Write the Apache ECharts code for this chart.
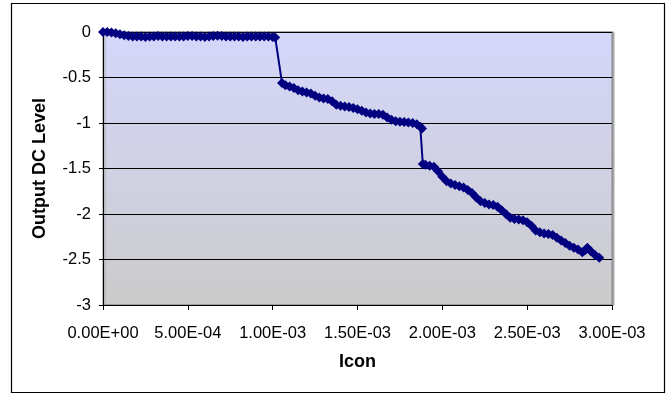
<!DOCTYPE html>
<html>
<head>
<meta charset="utf-8">
<script src="https://cdn.jsdelivr.net/npm/echarts@6/dist/echarts.min.js"></script>
<style>
  html, body { margin: 0; padding: 0; background: #fff; }
  #chart { width: 666px; height: 395px; }
</style>
</head>
<body>
<div id="chart"></div>
<script>
// Icon sweep, in mA (converted to A when plotted)
const iconMilliAmps = [
  0, 0.025, 0.05, 0.075, 0.1, 0.125, 0.15, 0.175, 0.2, 0.225,
  0.25, 0.275, 0.3, 0.325, 0.35, 0.375, 0.4, 0.425, 0.45, 0.475,
  0.5, 0.525, 0.55, 0.575, 0.6, 0.625, 0.65, 0.675, 0.7, 0.725,
  0.75, 0.775, 0.8, 0.825, 0.85, 0.875, 0.9, 0.925, 0.95, 0.975,
  1.0, 1.015,
  1.055, 1.075, 1.1, 1.125, 1.15, 1.175, 1.2, 1.225, 1.25, 1.275,
  1.3, 1.325, 1.35, 1.375, 1.4, 1.425, 1.45, 1.475, 1.5, 1.525,
  1.55, 1.575, 1.6, 1.625, 1.65, 1.675, 1.7, 1.725, 1.75, 1.775,
  1.8, 1.825, 1.85, 1.87, 1.88,
  1.885, 1.9, 1.925, 1.95, 1.975, 2.0, 2.025, 2.05, 2.075, 2.1,
  2.125, 2.15, 2.175, 2.2, 2.225, 2.25, 2.275, 2.3, 2.325, 2.35,
  2.375, 2.4, 2.425, 2.45, 2.475, 2.5, 2.525, 2.55, 2.575, 2.6,
  2.625, 2.65, 2.675, 2.7, 2.725, 2.75, 2.775, 2.8, 2.825, 2.84,
  2.855, 2.875, 2.9, 2.925
];

// Measured output DC level for each Icon point
const outputDcLevel = [
  0, 0, -0.005, -0.015, -0.025, -0.035, -0.045, -0.05, -0.05, -0.05,
  -0.055, -0.05, -0.05, -0.045, -0.05, -0.05, -0.05, -0.05, -0.05, -0.05,
  -0.045, -0.045, -0.05, -0.05, -0.055, -0.05, -0.045, -0.04, -0.045, -0.05,
  -0.05, -0.05, -0.05, -0.055, -0.05, -0.05, -0.05, -0.05, -0.05, -0.05,
  -0.055, -0.06,
  -0.56, -0.585, -0.6, -0.615, -0.64, -0.655, -0.665, -0.675, -0.7, -0.72,
  -0.73, -0.735, -0.76, -0.8, -0.81, -0.82, -0.825, -0.835, -0.85, -0.865,
  -0.885, -0.895, -0.9, -0.9, -0.91, -0.94, -0.965, -0.98, -0.985, -0.99,
  -0.995, -1.0, -1.015, -1.04, -1.06,
  -1.45, -1.46, -1.47, -1.48, -1.53, -1.59, -1.64, -1.665, -1.68, -1.695,
  -1.71, -1.735, -1.77, -1.82, -1.86, -1.88, -1.895, -1.9, -1.92, -1.96,
  -2.0, -2.04, -2.055, -2.06, -2.07, -2.09, -2.13, -2.18, -2.2, -2.215,
  -2.22, -2.23, -2.26, -2.29, -2.32, -2.35, -2.37, -2.39, -2.42, -2.4,
  -2.37, -2.41, -2.45, -2.48
];

const xTickLabels = ['0.00E+00', '5.00E-04', '1.00E-03', '1.50E-03', '2.00E-03', '2.50E-03', '3.00E-03'];
const yTickLabels = ['-3', '-2.5', '-2', '-1.5', '-1', '-0.5', '0'];

const points = iconMilliAmps.map((x, i) => [x * 1e-3, outputDcLevel[i]]);

const FONT = '"Liberation Sans", Arial, sans-serif';
const chart = echarts.init(document.getElementById('chart'), null, { renderer: 'canvas' });

chart.setOption({
  animation: false,
  backgroundColor: '#ffffff',
  graphic: [{
    type: 'rect',
    shape: { x: 11.5, y: 3.5, width: 653, height: 389 },
    style: { fill: 'none', stroke: '#000', lineWidth: 1.2 },
    silent: true,
    z: 0
  }],
  grid: {
    left: 103, top: 32, right: 54, bottom: 90,
    show: true,
    borderColor: '#808080',
    borderWidth: 1,
    backgroundColor: {
      type: 'linear', x: 0, y: 0, x2: 0, y2: 1,
      colorStops: [
        { offset: 0, color: '#d5d7fc' },
        { offset: 1, color: '#cbcbcb' }
      ]
    },
    shadowColor: '#a8a8a8',
    shadowOffsetX: 2,
    shadowOffsetY: 0,
    shadowBlur: 0
  },
  xAxis: {
    type: 'value',
    min: 0, max: 0.003, interval: 0.0005,
    name: 'Icon',
    nameLocation: 'middle',
    nameGap: 48,
    nameTextStyle: { fontFamily: FONT, fontSize: 18, fontWeight: 'bold', color: '#000' },
    axisLine: { show: true, onZero: false, lineStyle: { color: '#000', width: 1 } },
    axisTick: { show: true, length: 5, inside: false, lineStyle: { color: '#000' } },
    splitLine: { show: false },
    axisLabel: {
      margin: 20,
      fontFamily: FONT, fontSize: 16.5, color: '#000',
      formatter: v => xTickLabels[Math.round(v / 0.0005)]
    }
  },
  yAxis: {
    type: 'value',
    min: -3, max: 0, interval: 0.5,
    name: 'Output DC Level',
    nameLocation: 'middle',
    nameGap: 54,
    nameRotate: 90,
    nameTextStyle: { fontFamily: FONT, fontSize: 18, fontWeight: 'bold', color: '#000' },
    axisLine: { show: true, onZero: false, lineStyle: { color: '#000', width: 1 } },
    axisTick: { show: true, length: 4, inside: false, lineStyle: { color: '#000' } },
    splitLine: { show: true, lineStyle: { color: '#000', width: 1 } },
    axisLabel: {
      margin: 12,
      fontFamily: FONT, fontSize: 16.5, color: '#000',
      formatter: v => yTickLabels[Math.round((v + 3) / 0.5)]
    }
  },
  series: [{
    type: 'line',
    data: points,
    symbol: 'diamond',
    symbolSize: 10,
    showAllSymbol: true,
    lineStyle: { color: '#000080', width: 2 },
    itemStyle: { color: '#000080', borderColor: '#000080', borderWidth: 0 },
    clip: false,
    z: 3
  }]
});
</script>
</body>
</html>
